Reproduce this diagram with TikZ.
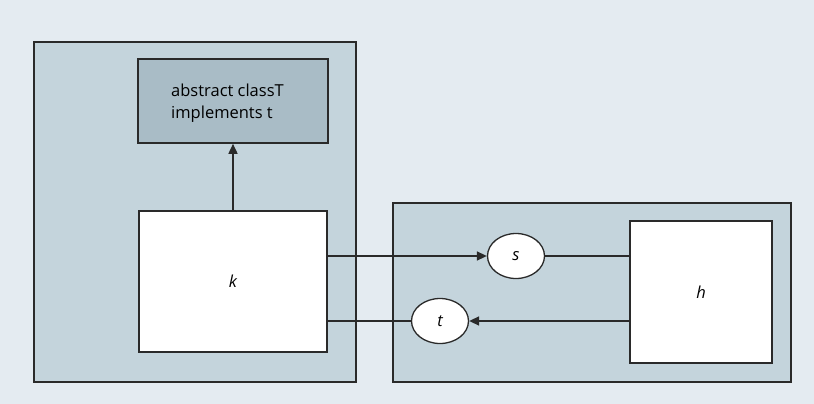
\documentclass[tikz,border=0pt]{standalone}
\usepackage{fontspec}
\setmainfont{Open Sans}
\usetikzlibrary{arrows.meta,shapes.geometric}
\definecolor{bgcol}{HTML}{E4EBF1}
\definecolor{panelcol}{HTML}{C4D4DC}
\definecolor{abscol}{HTML}{A9BCC6}
\definecolor{edgecol}{HTML}{2A2A2A}
\tikzset{
  basefont/.style={font=\fontsize{16.5}{21.5}\selectfont},
  labelfont/.style={font=\fontsize{16.5}{21.5}\selectfont\itshape},
  panel/.style={draw=edgecol, line width=1.6pt, fill=panelcol},
  classbox/.style={draw=edgecol, line width=1.6pt, fill=white, inner sep=0pt, labelfont},
  absbox/.style={draw=edgecol, line width=1.6pt, fill=abscol, inner sep=0pt},
  port/.style={ellipse, draw=edgecol, line width=1.3pt, fill=white, inner sep=0pt, minimum width=57pt, minimum height=45pt, labelfont},
  link/.style={draw=edgecol, line width=1.6pt},
  arr/.style={link, -{Triangle[length=10pt, width=9pt]}}
}
\begin{document}
\begin{tikzpicture}[x=1pt, y=-1pt, basefont]
  \useasboundingbox (0,0) rectangle (814,404);
  \fill[bgcol] (0,0) rectangle (814,404);
  % containers
  \draw[panel] (34,42) rectangle (356,382);
  \draw[panel] (393,203) rectangle (791,382);
  % classes
  \node[absbox, minimum width=190pt, minimum height=84pt] (abs) at (233,101) {};
  \node[anchor=north west, align=left, inner sep=0pt] (abstxt) at (171,84) {abstract classT\\implements t};
  \node[classbox, minimum width=188pt, minimum height=141pt] (k) at (233,281.5) {k};
  \node[classbox, minimum width=142pt, minimum height=142pt] (h) at (701,292) {h};
  % interfaces
  \node[port] (s) at (516,256) {s};
  \node[port] (t) at (440,321) {t};
  % connections
  \draw[arr] (k.north) -- (abs.south);
  \draw[arr] (k.east |- s) -- (s.west);
  \draw[link] (s.east) -- (h.west |- s);
  \draw[arr] (h.west |- t) -- (t.east);
  \draw[link] (t.west) -- (k.east |- t);
\end{tikzpicture}
\end{document}
